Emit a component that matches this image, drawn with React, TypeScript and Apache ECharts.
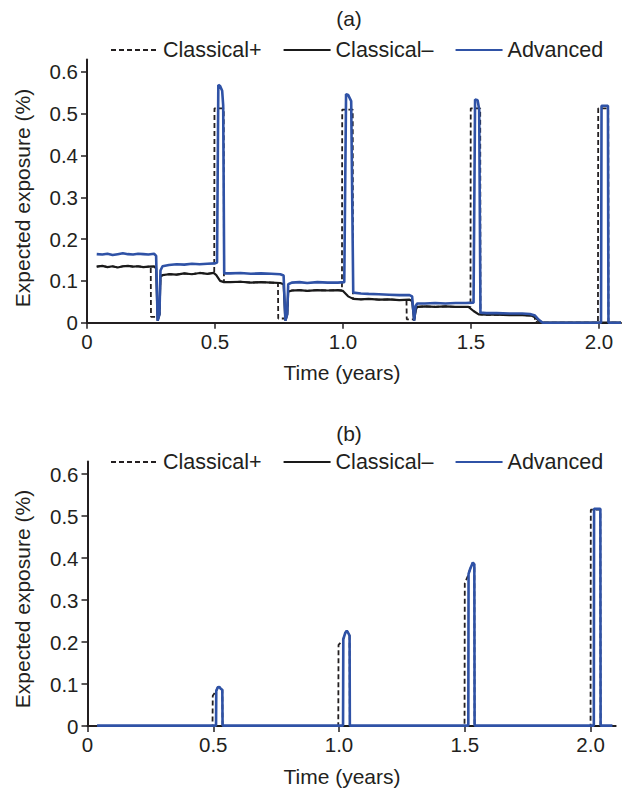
import React, { useEffect, useRef } from "react";
import * as echarts from "echarts";

const seriesNames = ["Classical+", "Classical\u2013", "Advanced"];
const panelTitles = ["(a)", "(b)"];
const xAxisTitle = "Time (years)";
const yAxisTitle = "Expected exposure (%)";
const xTickValues = [0, 0.5, 1, 1.5, 2];
const xTickLabels = ["0", "0.5", "1.0", "1.5", "2.0"];
const yTickValues = [0, 0.1, 0.2, 0.3, 0.4, 0.5, 0.6];
const yTickLabels = ["0", "0.1", "0.2", "0.3", "0.4", "0.5", "0.6"];

// Panel (a): [time (years), expected exposure (%)]
const aClassicalPlus: [number, number][] = [
  [0.038, 0.134], [0.06, 0.136], [0.08, 0.133], [0.1, 0.135], [0.12, 0.132], [0.14, 0.135],
  [0.16, 0.136], [0.18, 0.134], [0.2, 0.135], [0.22, 0.133], [0.24, 0.134], [0.249, 0.134],
  [0.25, 0.014], [0.276, 0.014], [0.283, 0.02], [0.287, 0.11], [0.295, 0.114], [0.32, 0.116],
  [0.35, 0.115], [0.38, 0.118], [0.41, 0.116], [0.44, 0.119], [0.47, 0.117], [0.497, 0.119],
  [0.498, 0.513], [0.534, 0.513], [0.535, 0.097], [0.56, 0.097], [0.6, 0.098], [0.64, 0.096],
  [0.68, 0.097], [0.72, 0.096], [0.746, 0.095], [0.747, 0.01], [0.775, 0.01], [0.782, 0.02],
  [0.786, 0.074], [0.8, 0.077], [0.83, 0.078], [0.86, 0.076], [0.9, 0.078], [0.94, 0.077],
  [0.98, 0.078], [0.996, 0.077], [0.997, 0.51], [1.038, 0.51], [1.039, 0.057], [1.07, 0.056],
  [1.1, 0.057], [1.14, 0.055], [1.18, 0.056], [1.22, 0.054], [1.248, 0.055], [1.249, 0.008],
  [1.278, 0.008], [1.284, 0.03], [1.29, 0.038], [1.32, 0.039], [1.36, 0.038], [1.4, 0.039],
  [1.44, 0.038], [1.498, 0.038], [1.499, 0.513], [1.536, 0.513], [1.537, 0.02], [1.56, 0.019],
  [1.6, 0.019], [1.65, 0.018], [1.7, 0.018], [1.749, 0.017], [1.75, 0.002], [1.78, 0],
  [1.996, 0], [1.997, 0.513], [2.036, 0.513], [2.037, 0], [2.086, 0],
];
const aClassicalMinus: [number, number][] = [
  [0.038, 0.134], [0.06, 0.136], [0.08, 0.133], [0.1, 0.135], [0.12, 0.132], [0.14, 0.135],
  [0.16, 0.136], [0.18, 0.134], [0.2, 0.135], [0.22, 0.133], [0.24, 0.134], [0.262, 0.135],
  [0.27, 0.13], [0.276, 0.005], [0.283, 0.02], [0.287, 0.11], [0.295, 0.114], [0.32, 0.116],
  [0.35, 0.115], [0.38, 0.118], [0.41, 0.116], [0.44, 0.119], [0.47, 0.117], [0.495, 0.119],
  [0.505, 0.114], [0.52, 0.1], [0.535, 0.097], [0.56, 0.097], [0.6, 0.098], [0.64, 0.096],
  [0.68, 0.097], [0.72, 0.096], [0.755, 0.095], [0.768, 0.092], [0.775, 0.005], [0.782, 0.02],
  [0.786, 0.074], [0.8, 0.077], [0.83, 0.078], [0.86, 0.076], [0.9, 0.078], [0.94, 0.077],
  [0.98, 0.078], [1.0, 0.076], [1.02, 0.063], [1.04, 0.057], [1.07, 0.056], [1.1, 0.057],
  [1.14, 0.055], [1.18, 0.056], [1.22, 0.054], [1.26, 0.055], [1.27, 0.052], [1.278, 0.005],
  [1.284, 0.03], [1.29, 0.038], [1.32, 0.039], [1.36, 0.038], [1.4, 0.039], [1.44, 0.038],
  [1.49, 0.038], [1.51, 0.028], [1.53, 0.02], [1.56, 0.019], [1.6, 0.019], [1.65, 0.018],
  [1.7, 0.018], [1.735, 0.017], [1.75, 0.013], [1.765, 0.005], [1.78, 0], [2.086, 0],
];
const aAdvanced: [number, number][] = [
  [0.038, 0.164], [0.06, 0.163], [0.08, 0.165], [0.1, 0.162], [0.12, 0.164], [0.14, 0.166],
  [0.16, 0.164], [0.18, 0.163], [0.2, 0.165], [0.22, 0.164], [0.24, 0.163], [0.262, 0.165],
  [0.27, 0.16], [0.276, 0.005], [0.283, 0.02], [0.287, 0.125], [0.295, 0.135], [0.32, 0.138],
  [0.35, 0.14], [0.38, 0.139], [0.41, 0.141], [0.44, 0.14], [0.47, 0.141], [0.5, 0.142],
  [0.508, 0.144], [0.513, 0.569], [0.52, 0.566], [0.528, 0.555], [0.532, 0.52], [0.536, 0.118],
  [0.56, 0.118], [0.6, 0.119], [0.64, 0.117], [0.68, 0.118], [0.72, 0.117], [0.755, 0.116],
  [0.768, 0.113], [0.775, 0.005], [0.782, 0.02], [0.786, 0.092], [0.8, 0.096], [0.83, 0.097],
  [0.86, 0.095], [0.9, 0.097], [0.94, 0.096], [0.98, 0.096], [1.005, 0.097], [1.012, 0.547],
  [1.02, 0.545], [1.032, 0.53], [1.04, 0.072], [1.07, 0.07], [1.1, 0.069], [1.14, 0.068],
  [1.18, 0.067], [1.22, 0.066], [1.26, 0.066], [1.27, 0.063], [1.278, 0.005], [1.284, 0.04],
  [1.29, 0.046], [1.32, 0.046], [1.36, 0.047], [1.4, 0.046], [1.44, 0.047], [1.48, 0.047],
  [1.51, 0.048], [1.516, 0.534], [1.526, 0.532], [1.532, 0.51], [1.537, 0.024], [1.56, 0.023],
  [1.6, 0.023], [1.65, 0.022], [1.7, 0.022], [1.73, 0.021], [1.75, 0.017], [1.765, 0.007],
  [1.78, 0], [2.008, 0], [2.01, 0.519], [2.035, 0.519], [2.037, 0], [2.086, 0],
];

// Panel (b)
const bClassicalPlus: [number, number][] = [
  [0.038, 0], [0.497, 0], [0.498, 0.072], [0.511, 0.083], [0.512, 0.084], [0.518, 0.092],
  [0.524, 0.093], [0.531, 0.088], [0.536, 0.086], [0.537, 0], [0.997, 0], [0.998, 0.193],
  [1.016, 0.205], [1.025, 0.222], [1.031, 0.227], [1.038, 0.22], [1.042, 0.215], [1.043, 0],
  [1.499, 0], [1.5, 0.34], [1.514, 0.36], [1.522, 0.375], [1.532, 0.389], [1.538, 0.385],
  [1.539, 0], [2.0, 0], [2.001, 0.515], [2.039, 0.515], [2.04, 0], [2.087, 0],
];
const bClassicalMinus: [number, number][] = [
  [0.038, 0], [0.5, 0], [1.0, 0], [1.5, 0], [2.0, 0], [2.087, 0],
];
const bAdvanced: [number, number][] = [
  [0.038, 0.001], [0.2, 0.001], [0.4, 0.001], [0.511, 0.001], [0.512, 0.084], [0.518, 0.092],
  [0.524, 0.093], [0.531, 0.088], [0.536, 0.086], [0.537, 0.001], [0.8, 0.001], [1.016, 0.001],
  [1.017, 0.207], [1.025, 0.222], [1.031, 0.227], [1.038, 0.22], [1.042, 0.215], [1.043, 0.001],
  [1.3, 0.001], [1.514, 0.001], [1.515, 0.362], [1.522, 0.375], [1.532, 0.389], [1.538, 0.385],
  [1.539, 0.001], [1.8, 0.001], [2.013, 0.001], [2.014, 0.517], [2.039, 0.517], [2.04, 0.001],
  [2.087, 0.001],
];

const FONT = "'Liberation Sans', Arial, Helvetica, sans-serif";
const INK = "#231f20";
const BLUE = "#2f52a6";

function fmt(values: number[], labels: string[]) {
  return (v: number) => {
    const i = values.findIndex((t) => Math.abs(t - v) < 1e-6);
    return i >= 0 ? labels[i] : "";
  };
}

export default function App() {
  const ref = useRef<HTMLDivElement>(null);
  useEffect(() => {
    if (!ref.current) return;
    const chart = echarts.init(ref.current, null, { renderer: "svg" });
    const axisLine = { show: true, lineStyle: { color: INK, width: 2 } };
    const xAxis = (gridIndex: number, max: number) => ({
      type: "value",
      gridIndex,
      min: 0,
      max,
      splitLine: { show: false },
      axisLine: { ...axisLine, onZero: false },
      axisTick: { show: true, length: 6, lineStyle: { color: INK, width: 1.5 }, customValues: xTickValues },
      axisLabel: {
        customValues: xTickValues,
        formatter: fmt(xTickValues, xTickLabels),
        color: INK,
        fontFamily: FONT,
        fontSize: 20.5,
        margin: 8,
      },
    });
    const yAxis = (gridIndex: number) => ({
      type: "value",
      gridIndex,
      min: 0,
      max: 0.63,
      splitLine: { show: false },
      axisLine: { ...axisLine, onZero: false },
      axisTick: { show: true, length: 6, lineStyle: { color: INK, width: 1.5 }, customValues: yTickValues },
      axisLabel: {
        customValues: yTickValues,
        formatter: fmt(yTickValues, yTickLabels),
        color: INK,
        fontFamily: FONT,
        fontSize: 20.5,
        margin: 9,
      },
    });
    const styles = [
      { color: INK, width: 1.8, type: [5, 3] },
      { color: "#1a1a1a", width: 2.2, type: "solid" },
      { color: BLUE, width: 2.6, type: "solid" },
    ];
    const mk = (i: number, data: [number, number][], idx: number) => {
      const s = styles[i];
      return {
        type: "line",
        name: seriesNames[i],
        xAxisIndex: idx,
        yAxisIndex: idx,
        data,
        symbol: "none",
        showSymbol: false,
        clip: false,
        color: s.color,
        itemStyle: { color: s.color },
        lineStyle: { color: s.color, width: s.width, type: s.type },
      };
    };
    const legend = (top: number) => ({
      data: seriesNames,
      left: 110,
      top,
      padding: 0,
      itemWidth: 47,
      itemHeight: 14,
      itemGap: 21,
      selectedMode: false,
      itemStyle: { opacity: 0, borderWidth: 0 },
      textStyle: { color: INK, fontFamily: FONT, fontSize: 21.5 },
    });
    const txt = (text: string, x: number, y: number, rot = 0) => ({
      type: "text",
      x,
      y,
      rotation: rot,
      style: {
        text,
        fill: INK,
        font: `21px ${FONT}`,
        textAlign: "center",
        textVerticalAlign: "middle",
      },
    });
    chart.setOption({
      animation: false,
      backgroundColor: "#ffffff",
      grid: [
        { left: 87, right: 1, top: 59.4, bottom: 466.3 },
        { left: 87.5, right: 6.3, top: 461.4, bottom: 63 },
      ],
      xAxis: [xAxis(0, 2.086), xAxis(1, 2.1)],
      yAxis: [yAxis(0), yAxis(1)],
      legend: [legend(39), legend(451)],
      series: [
        mk(0, aClassicalPlus, 0),
        mk(1, aClassicalMinus, 0),
        mk(2, aAdvanced, 0),
        mk(0, bClassicalPlus, 1),
        mk(1, bClassicalMinus, 1),
        mk(2, bAdvanced, 1),
      ],
      graphic: [
        txt(panelTitles[0], 349, 18),
        txt(panelTitles[1], 349, 433),
        txt(xAxisTitle, 342, 372),
        txt(xAxisTitle, 342, 776),
        txt(yAxisTitle, 22, 198, Math.PI / 2),
        txt(yAxisTitle, 22, 599, Math.PI / 2),
      ],
    });
    return () => chart.dispose();
  }, []);
  return (
    <div
      ref={ref}
      style={{ position: "absolute", left: 0, top: 0, width: 622, height: 789, background: "#fff" }}
    />
  );
}
